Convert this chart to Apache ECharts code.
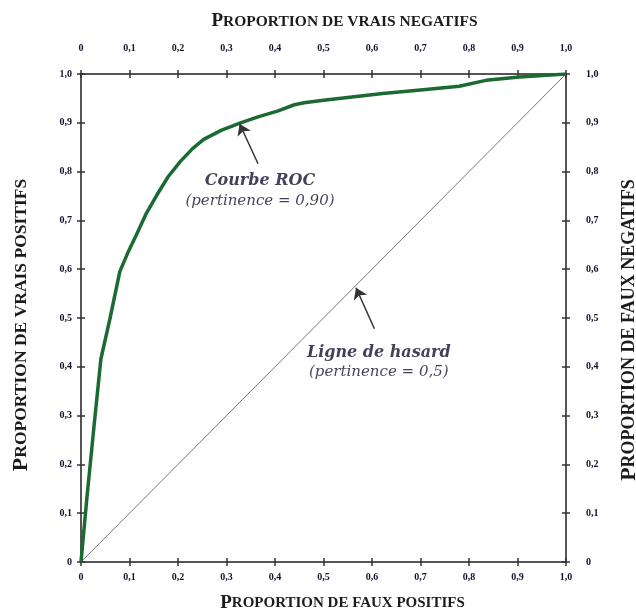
<!DOCTYPE html>
<html>
<head>
<meta charset="utf-8">
<script src="https://cdn.jsdelivr.net/npm/echarts@6/dist/echarts.min.js"></script>
<style>
  html, body { margin: 0; padding: 0; background: #fff; width: 100%; height: 100%; overflow: hidden; }
  #chart { width: 100vw; height: 100vh; }
</style>
</head>
<body>
<div id="chart"></div>
<script>
// courbe ROC (taux de faux positifs, taux de vrais positifs)
const rocCurve = [
  [0, 0], [0.012, 0.13], [0.027, 0.28], [0.041, 0.416], [0.06, 0.5],
  [0.08, 0.595], [0.098, 0.637], [0.115, 0.672], [0.135, 0.715],
  [0.157, 0.753], [0.18, 0.79], [0.205, 0.821], [0.23, 0.847],
  [0.253, 0.866], [0.29, 0.885], [0.329, 0.9], [0.365, 0.912],
  [0.405, 0.924], [0.44, 0.937], [0.46, 0.941], [0.5, 0.946],
  [0.622, 0.96], [0.7, 0.967], [0.78, 0.975], [0.835, 0.987],
  [0.904, 0.994], [1, 1]
];
const chanceLine = [[0, 0], [1, 1]];

// flèches d'annotation : [queue, pointe]
const rocArrow = [[0.365, 0.816], [0.327, 0.898]];
const chanceArrow = [[0.605, 0.478], [0.567, 0.562]];
const rocLabelPos = [0.369, 0.762];
const chanceLabelPos = [0.614, 0.41];

const textColor = '#12122e';
const axisColor = '#555';
const serif = '"Liberation Serif", "DejaVu Serif", serif';
const wideSerif = '"DejaVu Serif", serif';

const fmt = v => (v === 0 ? '0' : v.toFixed(1).replace('.', ','));

const smallCaps = s => '{a|' + s[0] + '}{b|' + s.slice(1) + '}';
function nameRich(big, small) {
  return {
    a: { fontFamily: serif, fontWeight: 'bold', fontSize: big, color: '#1c1c1c' },
    b: { fontFamily: serif, fontWeight: 'bold', fontSize: small, color: '#1c1c1c' }
  };
}

function axisBase(extra, margin, rich, namePad) {
  return Object.assign({
    type: 'value',
    min: 0,
    max: 1,
    interval: 0.1,
    splitLine: { show: false },
    axisLine: { show: true, onZero: false, lineStyle: { color: axisColor, width: 2 } },
    axisTick: { show: true, length: 4, lineStyle: { color: '#333', width: 1.5 } },
    axisLabel: {
      formatter: fmt,
      fontFamily: serif,
      fontWeight: 'bold',
      fontSize: 10,
      color: textColor,
      margin: margin
    },
    nameLocation: 'middle',
    nameTextStyle: { rich: rich, padding: namePad }
  }, extra);
}

// axes supplémentaires : graduations vers l'intérieur (traits qui croisent l'axe)
function innerTicks(position) {
  return {
    type: 'value', min: 0, max: 1, interval: 0.1, position: position,
    axisLine: { show: false, onZero: false },
    axisTick: { show: true, inside: true, length: 4, lineStyle: { color: '#333', width: 1.5 } },
    axisLabel: { show: false },
    splitLine: { show: false }
  };
}

const chart = echarts.init(document.getElementById('chart'), null, { renderer: 'canvas' });

chart.setOption({
  backgroundColor: '#fff',
  animation: false,
  grid: { left: 81, right: 70, top: 74, bottom: 52, containLabel: false, outerBoundsMode: 'none' },
  xAxis: [
    axisBase({ position: 'bottom', name: smallCaps('PROPORTION DE FAUX POSITIFS'), nameGap: 32 }, 10, nameRich(19, 15), [0, 0, 0, 38]),
    axisBase({ position: 'top', name: smallCaps('PROPORTION DE VRAIS NEGATIFS'), nameGap: 43 }, 21, nameRich(19, 15.5), [0, 0, 0, 42]),
    innerTicks('bottom'),
    innerTicks('top')
  ],
  yAxis: [
    axisBase({ position: 'left', name: smallCaps('PROPORTION DE VRAIS POSITIFS'), nameGap: 49, nameRotate: 90 }, 9, nameRich(22, 17.5), [0, 14, 0, 0]),
    axisBase({ position: 'right', name: smallCaps('PROPORTION DE FAUX NEGATIFS'), nameGap: 52, nameRotate: 90 }, 20, nameRich(22, 18), [0, 24, 0, 0]),
    innerTicks('left'),
    innerTicks('right')
  ],
  series: [
    {
      type: 'line',
      data: chanceLine,
      symbol: 'none',
      lineStyle: { color: '#777', width: 1 },
      silent: true,
      z: 2
    },
    {
      type: 'line',
      data: rocCurve,
      symbol: 'none',
      smooth: false,
      lineStyle: { color: '#1b6a32', width: 3.5, join: 'round' },
      silent: true,
      z: 3
    },
    {
      type: 'lines',
      coordinateSystem: 'cartesian2d',
      data: [{ coords: rocArrow }, { coords: chanceArrow }],
      symbol: ['none', 'arrow'],
      symbolSize: 11,
      lineStyle: { color: '#333', width: 1.5, opacity: 1 },
      silent: true,
      z: 4
    },
    {
      type: 'scatter',
      data: [
        { value: rocLabelPos, title: 'Courbe ROC', sub: '(pertinence = 0,90)' },
        { value: chanceLabelPos, title: 'Ligne de hasard', sub: '(pertinence = 0,5)' }
      ],
      symbolSize: 1,
      itemStyle: { color: 'transparent' },
      silent: true,
      label: {
        show: true,
        position: 'inside',
        align: 'center',
        verticalAlign: 'middle',
        formatter: p => '{t|' + p.data.title + '}\n{s|' + p.data.sub + '}',
        rich: {
          t: { fontFamily: wideSerif, fontStyle: 'italic', fontWeight: 'bold', fontSize: 16, color: textColor, lineHeight: 21, align: 'center' },
          s: { fontFamily: wideSerif, fontStyle: 'italic', fontSize: 15, color: textColor, lineHeight: 19, align: 'center' }
        }
      },
      z: 5
    }
  ]
});
window.addEventListener('resize', () => chart.resize());
</script>
</body>
</html>
